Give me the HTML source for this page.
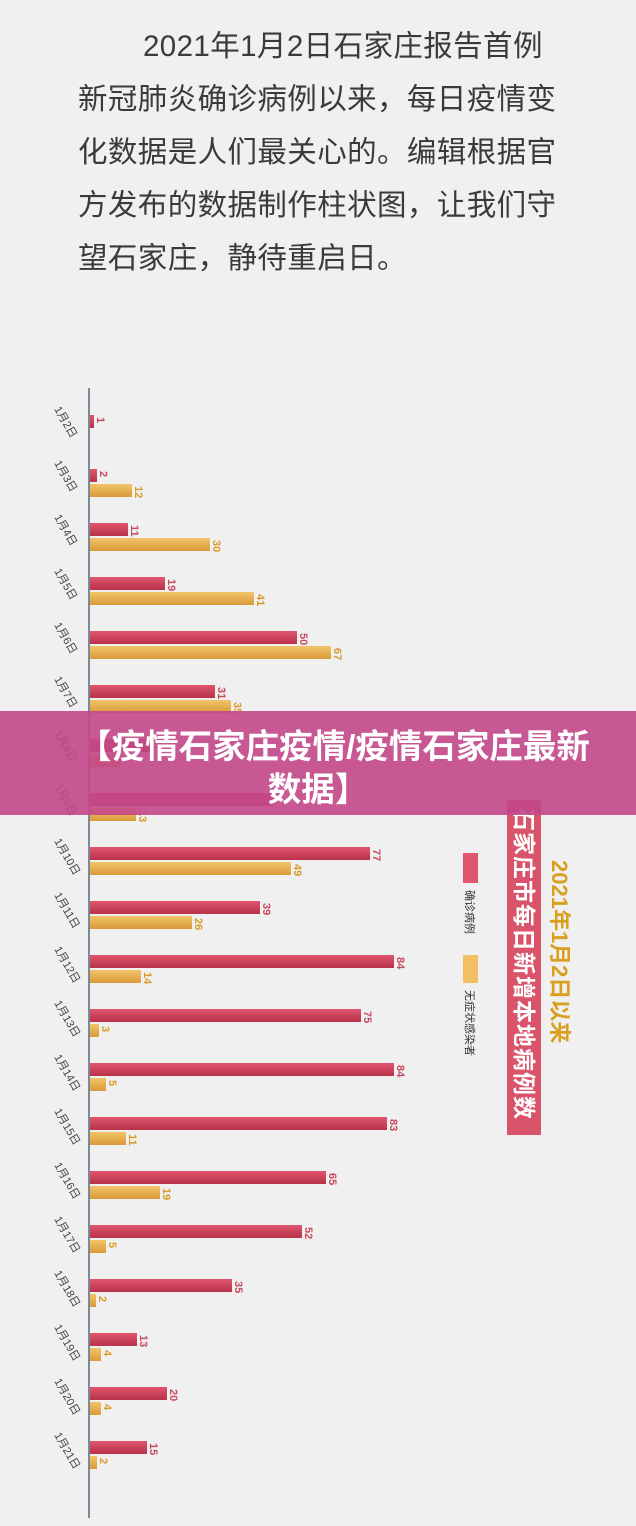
<!DOCTYPE html>
<html><head><meta charset="utf-8"><style>
body{margin:0;width:636px;height:1526px;background:#f0f0f0;overflow:hidden;font-family:"Liberation Sans","Noto Sans CJK SC",sans-serif}
.t{position:absolute;left:78px;top:20px;font-size:29.5px;color:#3a3a3a;line-height:53px;letter-spacing:0.4px;white-space:nowrap}
</style></head><body>
<div class="t"><span style="padding-left:65px">2021年1月2日石家庄报告首例</span><br>新冠肺炎确诊病例以来，每日疫情变<br>化数据是人们最关心的。编辑根据官<br>方发布的数据制作柱状图，让我们守<br>望石家庄，静待重启日。</div>
<svg width="636" height="1526" style="position:absolute;left:0;top:0" font-family="Liberation Sans, Noto Sans CJK SC, sans-serif">
<defs>
<linearGradient id="r" x1="0" y1="0" x2="0" y2="1"><stop offset="0" stop-color="#e0566e"/><stop offset="1" stop-color="#b8324a"/></linearGradient>
<linearGradient id="y" x1="0" y1="0" x2="0" y2="1"><stop offset="0" stop-color="#f2c46a"/><stop offset="1" stop-color="#d99a3a"/></linearGradient>
</defs>
<line x1="89" y1="388" x2="89" y2="1518" stroke="#7a8a9a" stroke-width="2"/>
<g id="bars"></g>
<rect x="507" y="800" width="34" height="335" fill="#d9536a"/>
<text transform="translate(516,808) rotate(90)" font-size="23" font-weight="bold" fill="#fff" letter-spacing="1">石家庄市每日新增本地病例数</text>
<text transform="translate(552,860) rotate(90)" font-size="22" font-weight="bold" fill="#d9a01e">2021年1月2日以来</text>
<rect x="463" y="853" width="15" height="30" fill="#e0566e"/>
<text transform="translate(466,890) rotate(90)" font-size="11" fill="#333">确诊病例</text>
<rect x="463" y="955" width="15" height="28" fill="#f2c062"/>
<text transform="translate(466,990) rotate(90)" font-size="11" fill="#333">无症状感染者</text>
<rect x="0" y="711" width="636" height="104" fill="#c2478a" opacity="0.9"/>
<text x="334" y="758" text-anchor="middle" font-size="33.5" font-weight="bold" fill="#fff">【疫情石家庄疫情/疫情石家庄最新</text>
<text x="318" y="801" text-anchor="middle" font-size="33.5" font-weight="bold" fill="#fff">数据】</text>
</svg>
<script>
var d=[[1,94,null,null],[2,97,12,132],[11,128,30,210],[19,165,41,254],[50,297,67,331],[31,215,35,231],[null,150,null,120],[null,273,13,136],[77,370,49,291],[39,260,26,192],[84,394,14,141],[75,361,3,99],[84,394,5,106],[83,387,11,126],[65,326,19,160],[52,302,5,106],[35,232,2,96],[13,137,4,101],[20,167,4,101],[15,147,2,97]];
var s='';
d.forEach(function(r,i){var y=415+54*i;
s+='<rect x="90" y="'+y+'" width="'+(r[1]-90)+'" height="13" fill="url(#r)"/>';
if(r[0]!=null)s+='<text transform="translate('+(r[1]+3)+','+(y+2)+') rotate(90)" font-size="11" font-weight="bold" fill="#c84a60">'+r[0]+'</text>';
if(r[3]!=null){s+='<rect x="90" y="'+(y+15)+'" width="'+(r[3]-90)+'" height="13" fill="url(#y)"/>';
if(r[2]!=null)s+='<text transform="translate('+(r[3]+3)+','+(y+17)+') rotate(90)" font-size="11" font-weight="bold" fill="#d99a2a">'+r[2]+'</text>';}
s+='<text transform="translate(54,'+(y-6)+') rotate(60)" font-size="11" fill="#444">1月'+(i+2)+'日</text>';});
document.getElementById('bars').innerHTML=s;
</script>
</body></html>
